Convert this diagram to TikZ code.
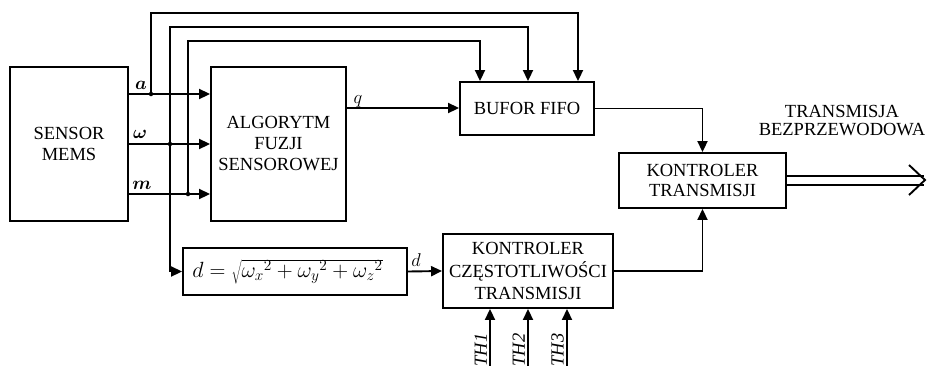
\RequirePackage{fix-cm}
\documentclass[tikz,border=0pt]{standalone}
\usepackage{fontspec}
\setmainfont{Liberation Serif}
\usepackage{bm}
\usetikzlibrary{arrows.meta,calc}
\begin{document}
\begin{tikzpicture}[x=1pt,y=-1pt,
  lw/.style={line width=1.9pt},
  blk/.style={draw,lw,rectangle,inner sep=0pt,align=center,font=\fontsize{18.5}{21}\selectfont},
  arr/.style={lw,-{Triangle[length=11pt,width=10pt]}},
  conn/.style={lw},
  lbl/.style={font=\fontsize{18.5}{21}\selectfont,inner sep=0pt},
  jdot/.style={circle,fill,inner sep=0pt,minimum size=4.5pt}
]
\useasboundingbox (0,0) rectangle (928,365);
% blocks
\node[blk,minimum width=118pt,minimum height=154pt] (sensor) at (69,144) {SENSOR\\MEMS};
\node[blk,minimum width=135pt,minimum height=154pt] (algo) at (278.5,144) {ALGORYTM\\FUZJI\\SENSOROWEJ};
\node[blk,minimum width=134pt,minimum height=53pt] (bufor) at (527,108.5) {BUFOR FIFO};
\node[blk,minimum width=167pt,minimum height=55pt,font=\fontsize{18.5}{20}\selectfont] (kt) at (702.5,180.5) {KONTROLER\\TRANSMISJI};
\node[blk,minimum width=224pt,minimum height=47pt,font=\fontsize{22}{24}\selectfont] (dbox) at (295,271.5) {$d=\sqrt{{\omega_x}^2+{\omega_y}^2+{\omega_z}^2}$\hspace*{15pt}};
\node[blk,minimum width=170pt,minimum height=74pt,font=\fontsize{18.5}{22.5}\selectfont] (kct) at (528,271) {KONTROLER\\CZĘSTOTLIWOŚCI\\TRANSMISJI};
\node[lbl,align=center,font=\fontsize{18.5}{18}\selectfont] (tb) at (842,121) {TRANSMISJA\\BEZPRZEWODOWA};

% junctions
\coordinate (sa) at (sensor.east |- 0,94);
\coordinate (sw) at (sensor.east |- 0,144);
\coordinate (sm) at (sensor.east |- 0,194);
\node[jdot] (ja) at (151,94) {};
\node[jdot] (jw) at (170,144) {};
\node[jdot] (jm) at (188,194) {};

% sensor -> algo
\draw[arr] (sa) -- (algo.west |- sa);
\draw[arr] (sw) -- (algo.west |- sw);
\draw[arr] (sm) -- (algo.west |- sm);
\node[lbl,anchor=base] at (141,89) {$\bm{a}$};
\node[lbl,anchor=base] at (140,138) {$\bm{\omega}$};
\node[lbl,anchor=base] at (142,189) {$\bm{m}$};

% branches to bufor
\coordinate (ta) at (151,13);
\coordinate (tw) at (170,27);
\coordinate (tm) at (188,41);
\draw[arr] (ja.center) -- (ta) -| ([xshift=51pt]bufor.north);
\draw[arr] (jw.center) -- (tw) -| ([xshift=1pt]bufor.north);
\draw[arr] (jm.center) -- (tm) -| ([xshift=-47pt]bufor.north);

% omega to dbox
\draw[arr] (jw.center) |- (dbox.west);

% q
\draw[arr] (algo.east |- 0,108) -- (bufor.west |- 0,108);
\node[lbl,anchor=base] at (358,103) {$q$};

% bufor -> kt
\draw[arr] (bufor.east) -| (kt.north);

% d
\draw[arr] (dbox.east) -- (kct.west);
\node[lbl,anchor=base] at (416,266) {$d$};

% kct -> kt
\draw[arr] (kct.east) -| (kt.south);

% thresholds
\foreach \i/\xx in {1/490,2/528,3/567}{
  \coordinate (th\i) at (\xx,370);
  \draw[arr] (th\i) -- (kct.south -| th\i);
  \node[lbl,rotate=90,anchor=south] at ([xshift=-3pt,yshift=20pt]th\i) {\textit{TH\i}};
}

% double arrow
\coordinate (tip) at (925,180);
\draw[conn] ([yshift=-4.5pt]kt.east) -- ++(137,0);
\draw[conn] ([yshift=4.5pt]kt.east) -- ++(137,0);
\draw[lw,line join=miter] ($(tip)+(-16,-15)$) -- (tip) -- ($(tip)+(-16,15)$);
\end{tikzpicture}
\end{document}
